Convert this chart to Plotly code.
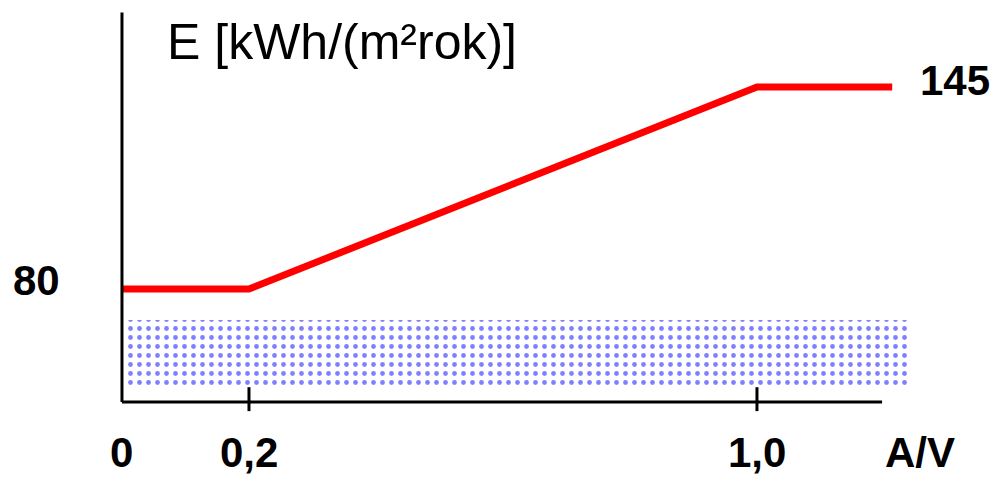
import plotly.graph_objects as go

# data
av_points = [0.0, 0.2, 1.0, 1.213]       # A/V breakpoints (last = line end)
e_values = [80, 80, 145, 145]            # E [kWh/(m2 rok)]
band_x = [0.009, 1.24]                   # dotted band extent on A/V
band_y = [49, 70]                        # dotted band extent on E
tick_vals = [0.0, 0.2, 1.0]
tick_text = ["0", "0,2", "1,0"]
axis_x_end = 1.197
axis_y_bottom = 43.6
axis_y_top = 169

W, H = 1005, 477
x_range = [-0.1921, 1.3906]
y_range = [19.5, 173.0]

fig = go.Figure()

# dotted band
fig.add_trace(go.Scatter(
    x=[band_x[0], band_x[1], band_x[1], band_x[0], band_x[0]],
    y=[band_y[0], band_y[0], band_y[1], band_y[1], band_y[0]],
    mode="lines", fill="toself", line=dict(width=0),
    fillcolor="white",
    fillpattern=dict(shape=".", fgcolor="#0000ff", bgcolor="white",
                     size=9, solidity=0.22),
    hoverinfo="skip", showlegend=False,
))

# red line
fig.add_trace(go.Scatter(
    x=av_points, y=e_values, mode="lines",
    line=dict(color="#ff0000", width=7),
    showlegend=False,
))

# axis lines
shapes = [
    dict(type="line", x0=0, x1=0, y0=axis_y_bottom, y1=axis_y_top,
         line=dict(color="black", width=3)),
    dict(type="line", x0=0, x1=axis_x_end, y0=axis_y_bottom, y1=axis_y_bottom,
         line=dict(color="black", width=3)),
]
for tv in tick_vals[1:]:
    shapes.append(dict(type="line", x0=tv, x1=tv, y0=axis_y_bottom + 4.8,
                       y1=axis_y_bottom - 2.9, line=dict(color="black", width=3)))

bold = dict(family="Liberation Sans", size=42, color="black", weight="bold")
annotations = []
for tv, tt in zip(tick_vals, tick_text):
    annotations.append(dict(x=tv, y=1 - 452 / H, xref="x", yref="paper",
                            text="<b>" + tt + "</b>", showarrow=False,
                            xanchor="center", yanchor="middle", font=bold))
annotations.append(dict(x=920 / W, y=1 - 452 / H, xref="paper", yref="paper",
                        text="<b>A/V</b>", showarrow=False,
                        xanchor="center", yanchor="middle", font=bold))
annotations.append(dict(x=0, y=e_values[0], xref="x", yref="y",
                        text="<b>80</b>", showarrow=False, xanchor="right",
                        xshift=-60, yshift=9, font=bold))
annotations.append(dict(x=av_points[-1], y=e_values[-1], xref="x", yref="y",
                        text="<b>145</b>", showarrow=False, xanchor="left",
                        xshift=26, yshift=7, font=bold))
annotations.append(dict(x=165 / W, y=1 - 42 / H, xref="paper", yref="paper",
                        text="E [kWh/(m²rok)]", showarrow=False,
                        xanchor="left", yanchor="middle",
                        font=dict(family="Liberation Sans", size=50, color="black")))

fig.update_layout(
    width=W, height=H,
    margin=dict(l=0, r=0, t=0, b=0),
    paper_bgcolor="white", plot_bgcolor="white",
    xaxis=dict(range=x_range, visible=False, fixedrange=True),
    yaxis=dict(range=y_range, visible=False, fixedrange=True),
    shapes=shapes, annotations=annotations,
)

fig.write_html("out.html", config={"displayModeBar": False},
               post_script="document.body.style.margin='0';"
                           "document.body.style.overflow='hidden';")
